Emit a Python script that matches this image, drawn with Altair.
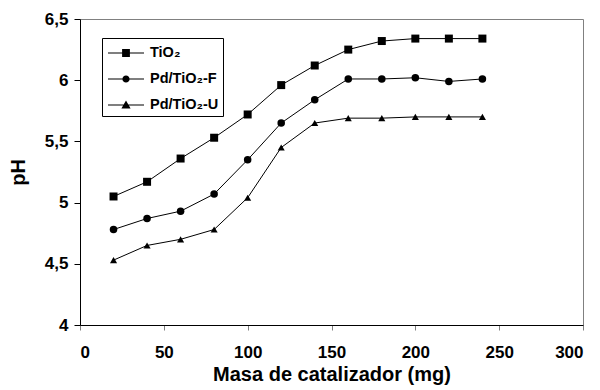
import altair as alt
import pandas as pd

masa = [20, 40, 60, 80, 100, 120, 140, 160, 180, 200, 220, 240]
ph_tio2 = [5.05, 5.17, 5.36, 5.53, 5.72, 5.96, 6.12, 6.25, 6.32, 6.34, 6.34, 6.34]
ph_pd_f = [4.78, 4.87, 4.93, 5.07, 5.35, 5.65, 5.84, 6.01, 6.01, 6.02, 5.99, 6.01]
ph_pd_u = [4.53, 4.65, 4.70, 4.78, 5.04, 5.45, 5.65, 5.69, 5.69, 5.70, 5.70, 5.70]
series_names = ["TiO₂", "Pd/TiO₂-F", "Pd/TiO₂-U"]
x_ticks = [0, 50, 100, 150, 200, 250, 300]
y_ticks = [4, 4.5, 5, 5.5, 6, 6.5]

rows = []
for name, vals in zip(series_names, [ph_tio2, ph_pd_f, ph_pd_u]):
    for m, v in zip(masa, vals):
        rows.append({"masa": m, "ph": v, "serie": name})
df = pd.DataFrame(rows)

FONT = "Liberation Sans"

x_enc = alt.X("masa:Q", scale=alt.Scale(domain=[0, 300], nice=False),
              axis=alt.Axis(values=x_ticks, title="Masa de catalizador (mg)",
                            tickColor="#808080", tickSize=5, labelPadding=14,
                            titlePadding=4))
y_enc = alt.Y("ph:Q", scale=alt.Scale(domain=[4, 6.5], nice=False, zero=False),
              axis=alt.Axis(values=y_ticks, title="pH", tickSize=6, labelPadding=6,
                            labelExpr="replace(toString(datum.value), '.', ',')",
                            titlePadding=16))

base = alt.Chart(df)

lines = base.mark_line(color="black", strokeWidth=1).encode(
    x=x_enc, y=y_enc, detail="serie:N"
)

points = base.mark_point(filled=True, color="black", opacity=1).encode(
    x=x_enc, y=y_enc,
    shape=alt.Shape("serie:N", scale=alt.Scale(domain=series_names,
                    range=["square", "circle", "triangle-up"]), legend=None),
    size=alt.Size("serie:N", scale=alt.Scale(domain=series_names, range=[64, 50, 81]),
                  legend=None),
)

LINE = "M-1.8,-0.05H-0.2V0.05H-1.8ZM0.2,-0.05H1.8V0.05H0.2Z"
legend_paths = [
    LINE + "M-0.39,-0.39H0.39V0.39H-0.39Z",
    LINE + "M-0.36,0A0.36,0.36 0 1,1 0.36,0A0.36,0.36 0 1,1 -0.36,0Z",
    LINE + "M0,-0.45L0.46,0.35L-0.46,0.35Z",
]

legend_layer = base.transform_filter("false").mark_point(
    filled=True, color="black", opacity=1
).encode(
    x=x_enc, y=y_enc,
    shape=alt.Shape("serie:N", scale=alt.Scale(domain=series_names, range=legend_paths),
                    legend=alt.Legend(title=None, orient="none", legendX=22, legendY=19,
                                      fillColor="white", strokeColor="black",
                                      padding=4, rowPadding=8, symbolSize=400,
                                      symbolOffset=9, labelOffset=13,
                                      symbolFillColor="black", symbolOpacity=1,
                                      labelFont=FONT, labelFontSize=14.5,
                                      labelFontWeight="bold", labelColor="black",
                                      cornerRadius=0)),
)

chart = alt.layer(lines, points, legend_layer).resolve_scale(
    shape="independent", size="independent"
).properties(
    width=503, height=306,
    background="white",
    autosize=alt.AutoSizeParams(type="none"),
    padding={"left": 80, "top": 19, "right": 17, "bottom": 65},
).configure_view(
    stroke="#808080", strokeWidth=1
).configure_axis(
    grid=False, domainColor="black", domainWidth=1, tickColor="black",
    labelFont=FONT, labelFontSize=17, labelFontWeight="bold", labelColor="black",
    titleFont=FONT, titleFontSize=20, titleFontWeight="bold", titleColor="black",
)

chart.save("out.html", embed_options={"renderer": "svg", "actions": False})
